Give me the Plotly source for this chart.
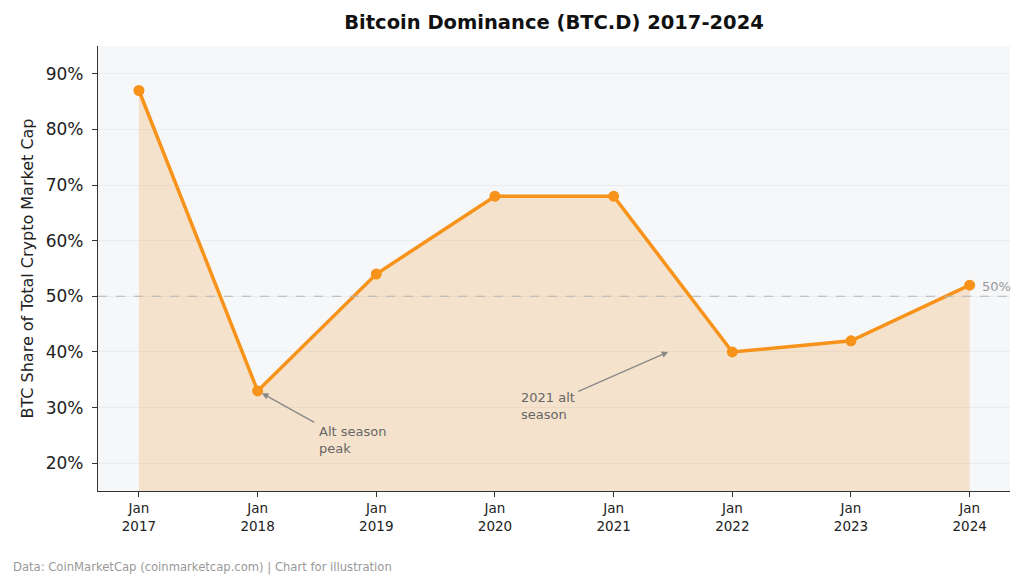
import plotly.graph_objects as go

years = [2017, 2018, 2019, 2020, 2021, 2022, 2023, 2024]
tick_labels = ["Jan<br>2017", "Jan<br>2018", "Jan<br>2019", "Jan<br>2020",
               "Jan<br>2021", "Jan<br>2022", "Jan<br>2023", "Jan<br>2024"]
dominance = [87, 33, 54, 68, 68, 40, 42, 52]
y_ticks = [20, 30, 40, 50, 60, 70, 80, 90]
y_tick_text = ["20%", "30%", "40%", "50%", "60%", "70%", "80%", "90%"]

ORANGE = "#f7931a"
FONT = "DejaVu Sans"

fig = go.Figure()
fig.add_trace(go.Scatter(
    x=years, y=dominance, mode="lines+markers",
    line=dict(color=ORANGE, width=3.5),
    marker=dict(color=ORANGE, size=11),
    fill="tozeroy", fillcolor="rgba(247,147,26,0.2)",
    showlegend=False, hoverinfo="skip",
))

fig.add_shape(type="line", xref="paper", x0=0, x1=1, yref="y", y0=50, y1=50,
              line=dict(color="#b5b5b5", width=1.1, dash="dash"), layer="above")

fig.add_annotation(x=2024, y=50, text="50%", showarrow=False, xanchor="left",
                   yanchor="bottom", xshift=10, yshift=0,
                   font=dict(family=FONT, size=13, color="#999999"))

fig.add_annotation(x=2018, y=33, ax=2018.49, ay=27.2, axref="x", ayref="y",
                   text="", showarrow=True, arrowhead=2, arrowsize=1,
                   arrowwidth=1.3, arrowcolor="#888888", standoff=5)
fig.add_annotation(x=2018.5, y=24.2, text="Alt season<br>peak", showarrow=False,
                   xanchor="left", align="left",
                   font=dict(family=FONT, size=13, color="#666666"))

fig.add_annotation(x=2021.46, y=40, ax=2020.69, ay=32.8, axref="x", ayref="y",
                   text="", showarrow=True, arrowhead=2, arrowsize=1,
                   arrowwidth=1.3, arrowcolor="#888888", standoff=0)
fig.add_annotation(x=2020.2, y=30.3, text="2021 alt<br>season", showarrow=False,
                   xanchor="left", align="left",
                   font=dict(family=FONT, size=13, color="#666666"))

fig.add_annotation(x=-87/912, y=-86/445, xref="paper", yref="paper", xanchor="left",
                   yanchor="bottom",
                   text="Data: CoinMarketCap (coinmarketcap.com) | Chart for illustration",
                   showarrow=False, font=dict(family=FONT, size=11.6, color="#999999"))

fig.update_layout(
    width=1024, height=584,
    margin=dict(l=98, r=14, t=46, b=93),
    paper_bgcolor="white", plot_bgcolor="#f6f7f9",
    title=dict(text="<b>Bitcoin Dominance (BTC.D) 2017-2024</b>", xref="paper", x=0.5,
               xanchor="center", y=0.962, yanchor="middle",
               font=dict(family=FONT, size=19.5, color="#111111")),
    font=dict(family=FONT),
    xaxis=dict(range=[2016.655, 2024.34], tickmode="array", tickvals=years,
               ticktext=tick_labels, showgrid=False, zeroline=False,
               showline=True, linecolor="#333333", linewidth=1.3,
               ticks="outside", ticklen=5, tickcolor="#333333",
               tickfont=dict(family=FONT, size=13.5, color="#222222")),
    yaxis=dict(range=[15, 95], tickmode="array", tickvals=y_ticks,
               ticktext=y_tick_text, showgrid=True, gridcolor="#eaebee",
               zeroline=False, showline=True, linecolor="#333333", linewidth=1.3,
               ticks="outside", ticklen=5, tickcolor="#333333",
               ticklabelstandoff=5,
               tickfont=dict(family=FONT, size=17, color="#222222"),
               title=dict(text="BTC Share of Total Crypto Market Cap",
                          font=dict(family=FONT, size=16, color="#222222"), standoff=8)),
)

fig.write_html("out.html")
